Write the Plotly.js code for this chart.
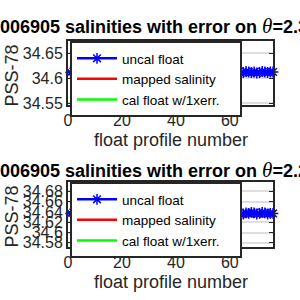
<!DOCTYPE html>
<html><head><meta charset="utf-8">
<script src="https://cdn.plot.ly/plotly-3.0.1.min.js"></script>
<style>html,body{margin:0;padding:0;background:#fff}#c{width:300px;height:300px}</style>
</head><body><div id="c"></div>
<script>
// ---- data ----
var profiles = [];
for (var i = 1; i <= 76; i++) profiles.push(i);

var uncalTop = [34.611,34.613,34.610,34.612,34.614,34.611,34.609,34.612,34.613,34.611,
34.610,34.612,34.614,34.613,34.611,34.610,34.612,34.611,34.613,34.612,
34.610,34.611,34.613,34.612,34.614,34.612,34.610,34.611,34.612,34.613,
34.611,34.612,34.610,34.611,34.613,34.612,34.611,34.610,34.612,34.613,
34.612,34.611,34.613,34.610,34.611,34.612,34.614,34.612,34.611,34.610,
34.612,34.613,34.611,34.612,34.610,34.611,34.613,34.612,34.611,34.612,
34.613,34.611,34.612,34.610,34.611,34.613,34.612,34.611,34.612,34.610,
34.611,34.613,34.612,34.611,34.612,34.612];
var mappedTop = [34.608,34.608,34.607,34.608,34.609,34.608,34.607,34.608,34.608,34.607,
34.608,34.608,34.609,34.608,34.607,34.608,34.608,34.607,34.608,34.608,
34.607,34.608,34.608,34.609,34.608,34.607,34.608,34.608,34.607,34.608,
34.608,34.607,34.608,34.608,34.609,34.608,34.607,34.608,34.608,34.607,
34.608,34.608,34.607,34.608,34.609,34.608,34.607,34.608,34.608,34.607,
34.608,34.608,34.607,34.608,34.608,34.607,34.608,34.609,34.608,34.607,
34.608,34.608,34.607,34.608,34.608,34.607,34.608,34.608,34.607,34.608,
34.608,34.607,34.608,34.608,34.607,34.608];
var mappedErrTop = 0.0015;
var calTop = uncalTop.map(function(v){return v - 0.001;});

var uncalBot = [34.637,34.639,34.636,34.638,34.640,34.637,34.635,34.638,34.639,34.637,
34.636,34.638,34.640,34.639,34.637,34.636,34.638,34.637,34.639,34.638,
34.636,34.637,34.639,34.638,34.640,34.638,34.636,34.637,34.638,34.639,
34.637,34.638,34.636,34.637,34.639,34.638,34.637,34.636,34.638,34.639,
34.638,34.637,34.639,34.636,34.637,34.638,34.640,34.638,34.637,34.636,
34.638,34.639,34.637,34.638,34.636,34.637,34.639,34.638,34.637,34.638,
34.638,34.636,34.637,34.635,34.636,34.638,34.637,34.639,34.638,34.636,
34.637,34.639,34.638,34.636,34.637,34.637];
var mappedBot = [34.633,34.633,34.632,34.633,34.634,34.633,34.632,34.633,34.633,34.632,
34.633,34.633,34.634,34.633,34.632,34.633,34.633,34.632,34.633,34.633,
34.632,34.633,34.633,34.634,34.633,34.632,34.633,34.633,34.632,34.633,
34.633,34.632,34.633,34.633,34.634,34.633,34.632,34.633,34.633,34.632,
34.633,34.633,34.632,34.633,34.634,34.633,34.632,34.633,34.633,34.632,
34.633,34.633,34.632,34.633,34.633,34.632,34.633,34.634,34.633,34.632,
34.633,34.633,34.632,34.633,34.633,34.632,34.633,34.633,34.632,34.633,
34.633,34.632,34.633,34.633,34.632,34.633];
var mappedErrBot = 0.0015;
var calBot = uncalBot.map(function(v){return v - 0.001;});

var names = ['uncal float', 'mapped salinity', 'cal float w/1xerr.'];
var floatName = '006905';
var thetaTop = '2.3°C';
var thetaBot = '2.2°C';
var xTicks = [0, 20, 40, 60];

// ---- layout helpers ----
var L = 68, R = 273, T = 41, B = 247;
function px(x){return (x - L)/(R - L);}
function py(y){return (B - y)/(B - T);}
var dark = '#262626';
var FONT = 'Liberation Sans, Arial, sans-serif';
var PAD = '\u00a0\u00a0\u00a0\u00a0'; // widens the legend box to the reference width

function traces(xa, ya, lg, uncal, mapped, merr, cal){
  return [
    {x: profiles, y: mapped, type:'scatter', mode:'lines', xaxis:xa, yaxis:ya, legend:lg,
     name:names[1] + PAD, line:{color:'#ff0000', width:2.5}, legendrank:2,
     error_y:{type:'constant', value:merr, color:'#ff0000', thickness:1, width:2}},
    {x: profiles, y: cal, type:'scatter', mode:'lines', xaxis:xa, yaxis:ya, legend:lg,
     name:names[2] + PAD, line:{color:'#00ff00', width:2.5}, legendrank:3},
    {x: profiles, y: uncal, type:'scatter', mode:'lines+markers', xaxis:xa, yaxis:ya, legend:lg,
     name:names[0] + PAD, line:{color:'#0000ff', width:2.5}, legendrank:1, cliponaxis:false,
     marker:{symbol:'asterisk-open', size:9, color:'#0000ff', line:{color:'#0000ff', width:1.5}}}
  ];
}

function titleText(th){
  return '<b>' + floatName + ' salinities with error on </b><span style="font-family:Liberation Serif;font-size:21px"><i>θ</i></span><b>=' + th + '</b>';
}

var data = [].concat(
  traces('x', 'y', 'legend', uncalTop, mappedTop, mappedErrTop, calTop),
  traces('x2', 'y2', 'legend2', uncalBot, mappedBot, mappedErrBot, calBot)
);

function xax(anchor){
  return {anchor:anchor, domain:[0,1], range:[0,76], tickvals:xTicks, ticks:'inside', ticklen:4,
    tickcolor:dark, tickwidth:1, showline:true, linecolor:dark, linewidth:2, mirror:'ticks',
    showgrid:false, zeroline:false, tickfont:{family:FONT, size:16, color:dark}};
}
function yax(anchor, dom, range, dt){
  return {anchor:anchor, domain:dom, range:range, dtick:dt, tick0:34.5, ticks:'inside', ticklen:4,
    tickcolor:dark, tickwidth:1, showline:true, linecolor:dark, linewidth:2, mirror:'ticks',
    showgrid:true, gridcolor:'#dedede', gridwidth:2, zeroline:false,
    tickfont:{family:FONT, size:16, color:dark}};
}
function leg(ytop){
  return {x:px(70), y:py(ytop), xanchor:'left', yanchor:'top', bgcolor:'#ffffff',
    bordercolor:dark, borderwidth:2, font:{family:FONT, size:13.5, color:'#000'},
    itemwidth:40, tracegroupgap:0, traceorder:'normal'};
}
function textAnn(x, y, t, ang, opt){
  var a = {xref:'paper', yref:'paper', x:px(x), y:py(y), xanchor:'center', yanchor:'middle',
    showarrow:false, textangle:ang||0, font:{family:FONT, size:18, color:dark}, text:t};
  if (opt) for (var k in opt) a[k] = opt[k];
  return a;
}

var layout = {
  width:300, height:300, margin:{l:L, r:300-R, t:T, b:300-B},
  paper_bgcolor:'#fff', plot_bgcolor:'#fff', showlegend:true,
  xaxis: xax('y'), yaxis: yax('x', [py(105), 1], [34.546, 34.674], 0.05),
  xaxis2: xax('y2'), yaxis2: yax('x2', [0, py(182)], [34.572, 34.698], 0.02),
  legend: leg(41), legend2: leg(182),
  annotations: [
    textAnn(-2, 26, titleText(thetaTop), 0, {xanchor:'left', font:{family:FONT, size:18, color:'#000'}}),
    textAnn(-2, 170, titleText(thetaBot), 0, {xanchor:'left', font:{family:FONT, size:18, color:'#000'}}),
    textAnn(170.5, 140, 'float profile number'), textAnn(170.5, 282, 'float profile number'),
    textAnn(11.5, 75, 'PSS-78', -90), textAnn(11.5, 216, 'PSS-78', -90)
  ]
};
Plotly.newPlot('c', data, layout, {staticPlot:true, displayModeBar:false});
</script></body></html>
